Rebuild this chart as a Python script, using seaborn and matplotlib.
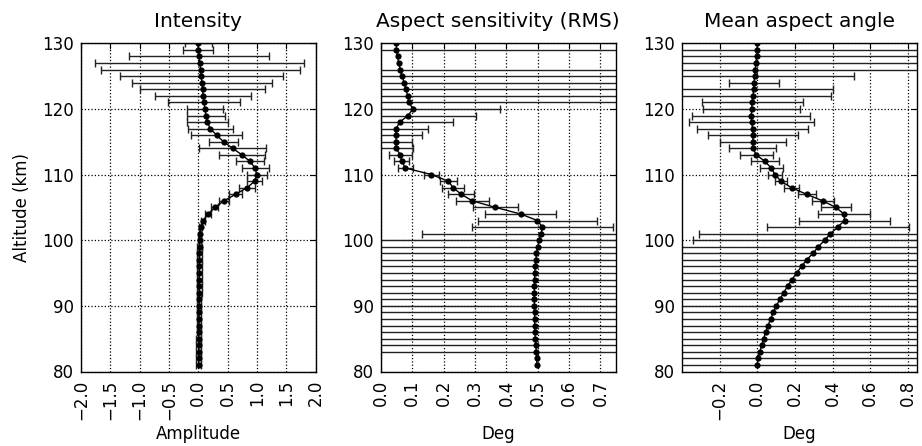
import matplotlib
matplotlib.use("Agg")
import matplotlib.pyplot as plt
import numpy as np
import pandas as pd
import seaborn as sns

altitude = [130, 129, 128, 127, 126, 125, 124, 123, 122, 121,
            120, 119, 118, 117, 116, 115, 114, 113, 112, 111,
            110, 109, 108, 107, 106, 105, 104, 103, 102, 101,
            100, 99, 98, 97, 96, 95, 94, 93, 92, 91,
            90, 89, 88, 87, 86, 85, 84, 83, 82, 81]

intensity = [0.000, 0.000, 0.017, 0.023, 0.040, 0.050, 0.063, 0.074, 0.085, 0.097,
             0.114, 0.131, 0.154, 0.205, 0.313, 0.433, 0.587, 0.746, 0.883, 0.969,
             0.997, 0.963, 0.832, 0.638, 0.439, 0.285, 0.171, 0.080, 0.040, 0.028,
             0.023, 0.022, 0.021, 0.020, 0.019, 0.018, 0.017, 0.016, 0.016, 0.015,
             0.015, 0.014, 0.013, 0.012, 0.011, 0.010, 0.009, 0.008, 0.006, 0.005]
intensity_err = [0.23, 0.26, 1.19, 1.78, 1.70, 1.39, 1.19, 1.06, 0.82, 0.61,
                 0.31, 0.33, 0.35, 0.38, 0.44, 0.25, 0.57, 0.39, 0.24, 0.23,
                 0.17, 0.13, 0.14, 0.11, 0.08, 0.06, 0.05, 0.03, 0.025, 0.02,
                 0.03, 0.04, 0.04, 0.04, 0.045, 0.04, 0.04, 0.04, 0.04, 0.04,
                 0.04, 0.04, 0.04, 0.04, 0.04, 0.045, 0.04, 0.04, 0.045, 0.045]

rms = [0.049, 0.049, 0.053, 0.056, 0.062, 0.067, 0.074, 0.080, 0.085, 0.089,
       0.102, 0.086, 0.060, 0.048, 0.048, 0.048, 0.048, 0.062, 0.066, 0.078,
       0.161, 0.215, 0.230, 0.256, 0.291, 0.365, 0.445, 0.499, 0.515, 0.511,
       0.504, 0.500, 0.496, 0.494, 0.492, 0.490, 0.490, 0.489, 0.489, 0.489,
       0.489, 0.490, 0.490, 0.490, 0.491, 0.492, 0.494, 0.495, 0.497, 0.497]
rms_err = [0.0, 9.0, 0.0, 0.0, 9.0, 9.0, 9.0, 9.0, 9.0, 9.0,
           0.278, 0.218, 0.169, 0.103, 0.084, 0.050, 0.054, 0.036, 0.024, 0.023,
           0.024, 0.028, 0.035, 0.041, 0.053, 0.072, 0.112, 0.189, 0.224, 0.381,
           9.0, 9.0, 9.0, 9.0, 9.0, 9.0, 9.0, 9.0, 9.0, 9.0,
           9.0, 9.0, 9.0, 9.0, 9.0, 9.0, 9.0, 9.0, 0.0, 0.0]

mean_angle = [0.000, 0.000, -0.004, -0.007, -0.011, -0.014, -0.018, -0.019, -0.023, -0.027,
              -0.030, -0.032, -0.030, -0.025, -0.023, -0.023, -0.023, -0.005, 0.041, 0.074,
              0.094, 0.126, 0.182, 0.262, 0.347, 0.418, 0.460, 0.464, 0.427, 0.389,
              0.358, 0.324, 0.296, 0.262, 0.235, 0.209, 0.184, 0.161, 0.140, 0.120,
              0.101, 0.085, 0.071, 0.057, 0.044, 0.034, 0.023, 0.014, 0.004, 0.000]
mean_err = [0.0, 9.0, 9.0, 9.0, 9.0, 0.526, 0.132, 0.421, 0.416, 0.268,
            0.258, 0.314, 0.332, 0.296, 0.237, 0.174, 0.125, 0.087, 0.076, 0.060,
            0.037, 0.033, 0.042, 0.048, 0.058, 0.081, 0.137, 0.243, 0.378, 0.70,
            0.70, 9.0, 9.0, 9.0, 9.0, 9.0, 9.0, 9.0, 9.0, 9.0,
            9.0, 9.0, 9.0, 9.0, 9.0, 9.0, 9.0, 9.0, 9.0, 9.0]

titles = ["Intensity", "Aspect sensitivity (RMS)", "Mean aspect angle"]
xlabels = ["Amplitude", "Deg", "Deg"]
xticks_list = [[-2.0, -1.5, -1.0, -0.5, 0.0, 0.5, 1.0, 1.5, 2.0],
               [0.0, 0.1, 0.2, 0.3, 0.4, 0.5, 0.6, 0.7],
               [-0.2, 0.0, 0.2, 0.4, 0.6, 0.8]]
xlims = [(-2.0, 2.0), (0.0, 0.748), (-0.40, 0.846)]
yticks = [80, 90, 100, 110, 120, 130]

sns.set_style("white")
plt.rcParams["font.family"] = ["DejaVu Sans"]
plt.rcParams["text.color"] = "k"
plt.rcParams["axes.labelcolor"] = "k"
plt.rcParams["xtick.color"] = "k"
plt.rcParams["ytick.color"] = "k"

fig = plt.figure(figsize=(9.22, 4.46), dpi=100)
lefts = [81 / 922, 381 / 922, 682 / 922]
w = 234.5 / 922
b = 1 - 371.5 / 446
h = 328.2 / 446

series = [(intensity, intensity_err), (rms, rms_err), (mean_angle, mean_err)]

for i, (vals, errs) in enumerate(series):
    ax = fig.add_axes([lefts[i], b, w, h])
    df = pd.DataFrame({"alt": altitude, "val": vals, "err": errs})
    sub = df[df["err"] > 0]
    ax.errorbar(sub["val"], sub["alt"], xerr=sub["err"], fmt="none",
                ecolor="#222222", elinewidth=1.0, capsize=2.6, capthick=1.0, zorder=2)
    sns.lineplot(data=df, x="val", y="alt", orient="y", ax=ax, color="k",
                 marker="o", markersize=4.5, markeredgewidth=0, linewidth=1.0,
                 estimator=None, sort=True, zorder=3)
    ax.set_xlim(*xlims[i])
    ax.set_ylim(80, 130)
    ax.set_xticks(xticks_list[i])
    ax.set_xticklabels([f"{t:.1f}".replace("-", "\u2212") for t in xticks_list[i]])
    ax.set_yticks(yticks)
    ax.set_yticklabels([str(t) for t in yticks])
    ax.grid(True, linestyle=":", color="k", linewidth=0.9)
    ax.tick_params(axis="both", direction="in", length=4, width=0.8,
                   top=True, right=True, labelsize=12, color="k", labelcolor="k")
    ax.tick_params(axis="y", pad=5)
    ax.tick_params(axis="x", pad=6, labelrotation=90)
    for s in ax.spines.values():
        s.set_color("k")
        s.set_linewidth(1.0)
        s.set_visible(True)
    ax.set_title(titles[i], fontsize=14.5, pad=12, color="k")
    ax.set_xlabel(xlabels[i], fontsize=12)
    ax.xaxis.set_label_coords(0.5, -0.163)
    ax.xaxis.label.set_va("top")
    if i == 0:
        ax.set_ylabel("Altitude (km)", fontsize=12, labelpad=8)
    else:
        ax.set_ylabel("")

fig.savefig("out.png", dpi=100)
